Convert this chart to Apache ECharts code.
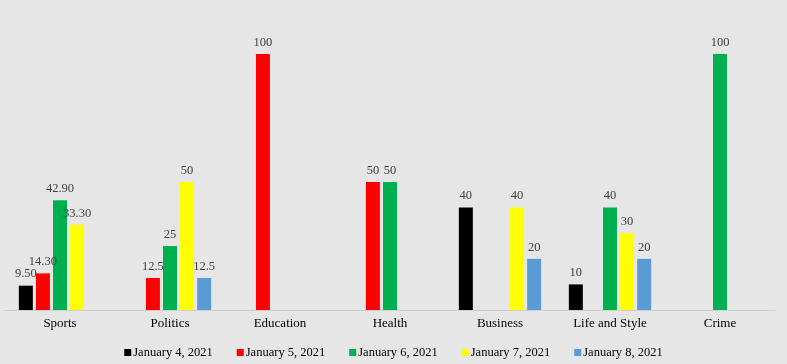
<!DOCTYPE html>
<html><head><meta charset="utf-8">
<script src="https://cdn.jsdelivr.net/npm/echarts@6/dist/echarts.min.js"></script>
<style>html,body{margin:0;padding:0;background:#e7e6e6}#c{width:787px;height:364px}</style>
</head><body><div id="c"></div>
<script>
const categories = ['Sports','Politics','Education','Health','Business','Life and Style','Crime'];
const seriesNames = ['January 4, 2021','January 5, 2021','January 6, 2021','January 7, 2021','January 8, 2021'];
const jan4 = [9.5, null, null, null, 40, 10, null];
const jan5 = [14.3, 12.5, 100, 50, null, null, null];
const jan6 = [42.9, 25, null, 50, null, 40, 100];
const jan7 = [33.3, 50, null, null, 40, 30, null];
const jan8 = [null, 12.5, null, null, 20, 20, null];
const jan4Labels = ['9.50', '', '', '', '40', '10', ''];
const jan5Labels = ['14.30', '12.5', '100', '50', '', '', ''];
const jan6Labels = ['42.90', '25', '', '50', '', '40', '100'];
const jan7Labels = ['33.30', '50', '', '', '40', '30', ''];
const jan8Labels = ['', '12.5', '', '', '20', '20', ''];
const colors = ['#000000','#ff0000','#00b050','#ffff00','#5b9bd5'];
const values = [jan4, jan5, jan6, jan7, jan8];
const labels = [jan4Labels, jan5Labels, jan6Labels, jan7Labels, jan8Labels];
const font = 'Liberation Serif, DejaVu Serif, serif';

const chart = echarts.init(document.getElementById('c'));
chart.setOption({
  backgroundColor: '#e7e6e6',
  animation: false,
  color: colors,
  textStyle: {fontFamily: font},
  grid: {left: 5, right: 12, top: 54, bottom: 54, containLabel: false},
  legend: {
    top: 341, left: 'center', itemWidth: 7, itemHeight: 7, itemGap: 24, icon: 'rect',
    textStyle: {fontFamily: font, fontSize: 12.5, color: '#000', padding: [0,0,0,-3]},
    data: seriesNames
  },
  xAxis: {
    type: 'category', data: categories,
    axisLine: {lineStyle: {color: '#d0cfcf'}},
    axisTick: {show: false},
    axisLabel: {fontFamily: font, fontSize: 13, color: '#000', margin: 7}
  },
  yAxis: {type: 'value', min: 0, max: 100, show: false, splitLine: {show: false}},
  series: values.map((v, i) => ({
    name: seriesNames[i], type: 'bar', data: v,
    barWidth: 14, barGap: '22%',
    label: {
      show: true, position: 'top', distance: 5,
      fontFamily: font, fontSize: 12.5, color: '#404040',
      formatter: p => labels[i][p.dataIndex]
    }
  }))
});
</script></body></html>
